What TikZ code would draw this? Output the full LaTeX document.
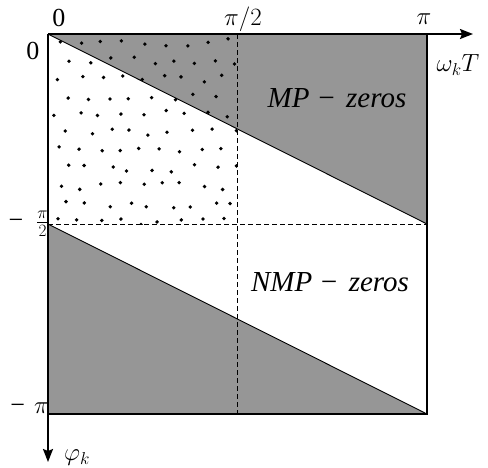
\documentclass[tikz,border=0pt]{standalone}
\usepackage{fontspec}
\setmainfont{Liberation Serif}
\usetikzlibrary{arrows.meta}
\definecolor{zonegray}{RGB}{150,150,150}
\begin{document}
\begin{tikzpicture}[x=1pt,y=1pt,
  thickline/.style={line width=1.8pt},
  thinline/.style={line width=0.9pt},
  dashline/.style={line width=0.8pt,dash pattern=on 5pt off 3pt},
  axis/.style={line width=1.8pt,-{Stealth[length=13pt,width=10pt,inset=2pt]}},
  lbl/.style={inner sep=0pt,font=\fontsize{26}{30}\selectfont},
  zonelbl/.style={inner sep=0pt,font=\fontsize{29}{33}\selectfont\itshape},
  dotmark/.style={fill=black}]
\useasboundingbox (-48,-433) rectangle (440,34);
\coordinate (O) at (0,0);
\coordinate (A) at (379,0);
\coordinate (B) at (379,-380);
\coordinate (C) at (0,-380);
\coordinate (M) at (0,-190);
\coordinate (R) at (379,-190);
\coordinate (T) at (189.5,0);
\coordinate (Bm) at (189.5,-380);
\coordinate (Q) at (189.5,-190);
\coordinate (Xend) at (425,0);
\coordinate (Yend) at (0,-428);
% gray zones
\fill[zonegray] (O) -- (A) -- (R) -- cycle;
\fill[zonegray] (M) -- (C) -- (B) -- cycle;
% dots
\begin{scope}
\clip (O) rectangle (Q);
\pgfmathsetseed{11}
\foreach \i in {0,...,8}{
  \foreach \j in {0,...,10}{
    \pgfmathsetmacro{\px}{9+\i*21+mod(\j,2)*10+rand*5}
    \pgfmathsetmacro{\py}{-8-\j*18+rand*4}
    \fill[dotmark] (\px,\py) circle (1.9pt);
  }
}
\end{scope}
% dashed
\draw[dashline] (T) -- (Bm);
\draw[dashline] (M) -- (R);
% diagonals
\draw[thinline] (O) -- (R);
\draw[thinline] (M) -- (B);
% borders
\draw[thickline] (A) -- (B) -- (C);
\draw[axis] (O) -- (Xend);
\draw[axis] (O) -- (Yend);
% labels
\node[lbl] (l0t) at (11,16) {0};
\node[lbl] (lpi2) at (195,15) {$\pi/2$};
\node[lbl] (lpi) at (376,15) {$\pi$};
\node[lbl] (l0l) at (-15,-17) {0};
\node[lbl,anchor=east] (lmpi2) at (1,-190) {−\hspace{13pt}$\frac{\pi}{2}$};
\node[lbl,anchor=east] (lmpi) at (1,-374) {−\hspace{9pt}$\pi$};
\node[lbl] (lphi) at (29,-424) {$\varphi_k$};
\node[lbl] (lomega) at (410,-31) {$\omega_k T$};
\node[zonelbl] (lmp) at (289,-64) {MP\hspace{7pt}−\hspace{10pt}zeros};
\node[zonelbl] (lnmp) at (282,-248) {NMP\hspace{7pt}−\hspace{10pt}zeros};
\end{tikzpicture}
\end{document}
